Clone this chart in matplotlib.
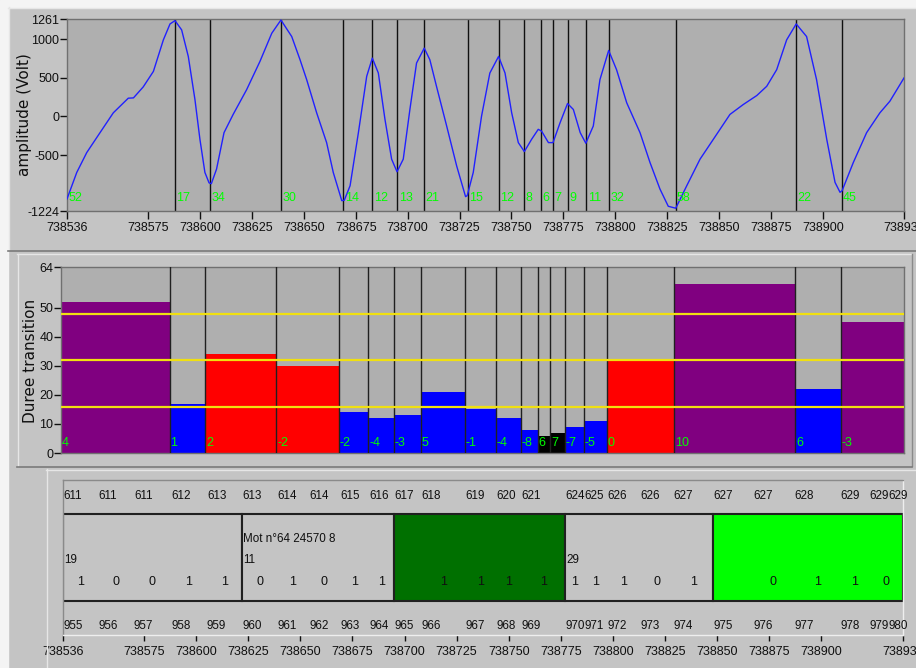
import matplotlib
matplotlib.use('Agg')
import matplotlib.pyplot as plt
from matplotlib.lines import Line2D
from matplotlib.patches import Rectangle

W, H = 916, 668
X_START, X_END = 738536, 738939

# ---- waveform ----
wave_x = [738536, 738540.7, 738545.5, 738551.9, 738558.3, 738565.5, 738568, 738572.7, 738577.6,
          738582.4, 738585.6, 738588, 738591.2, 738594.4, 738597.6, 738600, 738602.4, 738604.4,
          738605.5, 738608, 738611.6, 738616, 738622.5, 738628.9, 738634.6, 738639, 738644.2,
          738648.2, 738651.4, 738656.2, 738661, 738664.2, 738668.3, 738669.5, 738672.3, 738676.3,
          738680.3, 738683, 738685.9, 738689.1, 738692.3, 738694.9, 738697.9, 738701.1, 738704.3,
          738708, 738710.7, 738713.9, 738718.8, 738723.6, 738727.9, 738728.7, 738731.6, 738735.6,
          738739.6, 738743.8, 738746.9, 738750.1, 738753.3, 738756.2, 738759.7, 738762.9, 738764.5,
          738767.8, 738770, 738773.4, 738777, 738779.8, 738783.1, 738785.8, 738789.4, 738792.6,
          738796.8, 738800.6, 738805.5, 738811.9, 738816.7, 738821.5, 738825.5, 738829.1, 738834.4,
          738840.8, 738847.2, 738855.2, 738861.6, 738868.1, 738872.9, 738877.7, 738882.5, 738887.1,
          738892.1, 738896.9, 738901.8, 738905.8, 738908.2, 738909.2, 738914.6, 738921, 738927.4,
          738932.2, 738939]
wave_y = [-1068, -725, -468, -210, 47, 236, 240, 382, 583,
          991, 1197, 1240, 1120, 776, 219, -296, -725, -860,
          -870, -682, -210, 26, 347, 712, 1077, 1248, 1034,
          734, 476, 47, -339, -725, -1090, -1085, -897, -210,
          519, 755, 562, -39, -553, -716, -553, 90, 691,
          884, 734, 390, -124, -639, -1038, -1025, -725, 4,
          562, 776, 562, 47, -339, -455, -296, -167, -190,
          -339, -339, -82, 167, 90, -210, -347, -124, 476,
          854, 605, 176, -210, -596, -940, -1163, -1188, -897,
          -553, -296, 26, 154, 270, 390, 605, 991, 1197,
          1034, 476, -296, -854, -982, -961, -596, -210, 47,
          197, 498]

amp_ticks = [1261, 1000, 500, 0, -500, -1224]
x_ticks = [738536, 738575, 738600, 738625, 738650, 738675, 738700, 738725, 738750,
           738775, 738800, 738825, 738850, 738875, 738900, 738939]

# ---- transitions ----
durations = [52, 17, 34, 30, 14, 12, 13, 21, 15, 12, 8, 6, 7, 9, 11, 32, 58, 22, 45]
level_codes = ['4', '1', '2', '-2', '-2', '-4', '-3', '5', '-1', '-4', '-8', '6', '7', '-7', '-5',
               '0', '10', '6', '-3']
bar_class = ['long', 'short', 'mid', 'mid', 'short', 'short', 'short', 'short', 'short', 'short',
             'short', 'noise', 'noise', 'short', 'short', 'mid', 'long', 'short', 'long']
class_colors = {'short': '#0000ff', 'mid': '#ff0000', 'long': '#800080', 'noise': '#000000'}
thresholds = [16, 32, 48]
dur_ticks = [0, 10, 20, 30, 40, 50, 64]

# ---- decoded words ----
seg_pos = [738536, 738553, 738570, 738588, 738605, 738622, 738639, 738654, 738669, 738683,
           738695, 738708, 738729, 738744, 738756, 738777, 738786, 738797, 738813, 738829,
           738848, 738867, 738887, 738909, 738923, 738932]
top_row = ['611', '611', '611', '612', '613', '613', '614', '614', '615', '616', '617', '618',
           '619', '620', '621', '624', '625', '626', '626', '627', '627', '627', '628', '629',
           '629', '629']
bottom_row = ['955', '956', '957', '958', '959', '960', '961', '962', '963', '964', '965', '966',
              '967', '968', '969', '970', '971', '972', '973', '974', '975', '976', '977', '978',
              '979', '980']
bits = ['1', '0', '0', '1', '1', '0', '1', '0', '1', '1', '', '1', '1', '1', '1',
        '1', '1', '1', '0', '1', '', '0', '1', '1', '0']
word_colors = ['#c4c4c4', '#c4c4c4', '#007000', '#c4c4c4', '#00ff00']
word_counts = ['19', '11', '', '29', '']
word_titles = ['', 'Mot n°64 24570 8', '', '', '']

PANEL = '#c4c4c4'
PLOT = '#afafaf'
GREEN = '#00ff00'
NARROW = ['Liberation Sans Narrow', 'Liberation Sans', 'DejaVu Sans']
FS = 8.4

fig = plt.figure(figsize=(W / 100, H / 100), dpi=100, facecolor=PANEL)


def px_axes(x0, y0, x1, y1):
    return fig.add_axes([x0 / W, 1 - y1 / H, (x1 - x0) / W, (y1 - y0) / H])


def fline(xs, ys, color, lw=1.0):
    fig.add_artist(Line2D([x / W for x in xs], [1 - y / H for y in ys],
                          transform=fig.transFigure, color=color, lw=lw))


# white margins
fig.add_artist(Rectangle((0, 0), 8 / W, 1, transform=fig.transFigure, color='#f4f4f4', zorder=0))
fig.add_artist(Rectangle((0, 1 - 7 / H), 1, 7 / H, transform=fig.transFigure, color='#f4f4f4', zorder=0))
# panel frames
fline([8, 916], [7.5, 7.5], '#e6e6e6')
fline([8.5, 8.5], [7, 250], '#e6e6e6')
fline([8, 916], [250.5, 250.5], '#7a7a7a', 1.2)
fline([17, 911], [254.5, 254.5], '#e6e6e6')
fline([17.5, 17.5], [254, 466], '#e6e6e6')
fline([911.5, 911.5], [254, 466], '#8a8a8a')
fline([17, 912], [466.5, 466.5], '#7a7a7a', 1.2)
fline([46, 916], [469.5, 469.5], '#e6e6e6')
fline([46.5, 46.5], [469, 668], '#e6e6e6')

# ---------------- top: waveform ----------------
ax1 = px_axes(67, 19, 904, 211)
ax1.set_facecolor(PLOT)
ax1.set_xlim(X_START, X_END)
ax1.set_ylim(-1224, 1261)
ax1.plot(wave_x, wave_y, color='#2020ff', lw=1.0, zorder=3)
pos = [X_START]
for d in durations[:-1]:
    pos.append(pos[-1] + d)
for p in pos[1:]:
    ax1.axvline(p, color='#101010', lw=1.0, zorder=2)
for p, d in zip(pos, durations):
    ax1.annotate(str(d), (p, -1060), xytext=(1, 0), textcoords='offset points',
                 color=GREEN, fontsize=FS + 0.6, family=NARROW, va='center', ha='left', zorder=4)
ax1.set_yticks(amp_ticks)
ax1.set_yticklabels([str(v) for v in amp_ticks], family=NARROW, fontsize=FS + 0.6)
ax1.set_xticks(x_ticks)
ax1.set_xticklabels([str(v) for v in x_ticks], family=NARROW, fontsize=FS + 0.6)
ax1.tick_params(axis='y', direction='out', length=5, width=1, pad=0.5, colors='#101010')
ax1.tick_params(axis='x', direction='out', length=5.5, width=1, pad=2.5, colors='#101010')
for s in ax1.spines.values():
    s.set_color('#707070')
    s.set_linewidth(1)
fig.text(25 / W, 1 - 115 / H, 'amplitude (Volt)', rotation=90, ha='center', va='center',
         fontsize=11, family='DejaVu Sans', color='#101010')

# ---------------- middle: transition durations ----------------
ax2 = px_axes(61, 267, 904, 453)
ax2.set_facecolor(PLOT)
ax2.set_xlim(X_START, X_END)
ax2.set_ylim(0, 64)
for p, d, c in zip(pos, durations, bar_class):
    ax2.bar(p, d, width=d, align='edge', color=class_colors[c], edgecolor='none', zorder=2)
for p in pos[1:]:
    ax2.axvline(p, color='#202020', lw=1.0, zorder=3)
for t in thresholds:
    ax2.axhline(t, color='#f0e010', lw=1.6, zorder=4)
for p, code in zip(pos, level_codes):
    ax2.annotate(code, (p, 3.5), xytext=(0.5, 0), textcoords='offset points',
                 color=GREEN, fontsize=FS + 0.6, family=NARROW, va='center', ha='left', zorder=5)
ax2.set_yticks(dur_ticks)
ax2.set_yticklabels([str(v) for v in dur_ticks], family=NARROW, fontsize=FS + 0.6)
ax2.set_xticks([])
ax2.tick_params(axis='y', direction='out', length=5, width=1, pad=0.5, colors='#101010')
for s in ax2.spines.values():
    s.set_color('#707070')
    s.set_linewidth(1)
fig.text(30.5 / W, 1 - 361 / H, 'Duree transition', rotation=90, ha='center', va='center',
         fontsize=11, family='DejaVu Sans', color='#101010')

# ---------------- bottom: decoded words ----------------
ax3 = px_axes(62.7, 480, 902.7, 635)
ax3.set_facecolor('none')
ax3.set_xlim(X_START, X_END)
ax3.set_ylim(635, 480)
word_edges = seg_pos[0:25:5] + [X_END]
for i in range(5):
    ax3.add_patch(Rectangle((word_edges[i], 514), word_edges[i + 1] - word_edges[i], 86.5,
                            facecolor=word_colors[i], edgecolor='#202020', lw=1.5, zorder=2))
    if word_counts[i]:
        ax3.annotate(word_counts[i], (word_edges[i], 560), xytext=(1, 0), textcoords='offset points',
                     fontsize=FS, family=NARROW, va='center', ha='left', color='#101010', zorder=3)
    if word_titles[i]:
        ax3.annotate(word_titles[i], (word_edges[i], 539), xytext=(1, 0), textcoords='offset points',
                     fontsize=FS, family=NARROW, va='center', ha='left', color='#101010', zorder=3)
bit_right = seg_pos[1:25] + [X_END]
for b, l, r in zip(bits, seg_pos[:25], bit_right):
    if b:
        ax3.text((l + r) / 2, 582, b, fontsize=FS + 0.6, family=NARROW, ha='center', va='center',
                 color='#101010', zorder=3)
for p, t, b in zip(seg_pos, top_row, bottom_row):
    ax3.annotate(t, (p, 496), xytext=(0.3, 0), textcoords='offset points', fontsize=FS,
                 family=NARROW, va='center', ha='left', color='#101010')
    ax3.annotate(b, (p, 626), xytext=(0.3, 0), textcoords='offset points', fontsize=FS,
                 family=NARROW, va='center', ha='left', color='#101010')
ax3.set_yticks([])
ax3.set_xticks(x_ticks)
ax3.set_xticklabels([str(v) for v in x_ticks], family=NARROW, fontsize=FS + 0.6)
ax3.tick_params(axis='x', direction='out', length=4.5, width=1, pad=3.5, colors='#101010')
ax3.spines['top'].set_color('#8a8a8a')
ax3.spines['left'].set_color('#8a8a8a')
ax3.spines['bottom'].set_color('#eeeeee')
ax3.spines['right'].set_color('#eeeeee')
for s in ax3.spines.values():
    s.set_linewidth(1)

fig.savefig('out.png', dpi=100, facecolor=PANEL)
